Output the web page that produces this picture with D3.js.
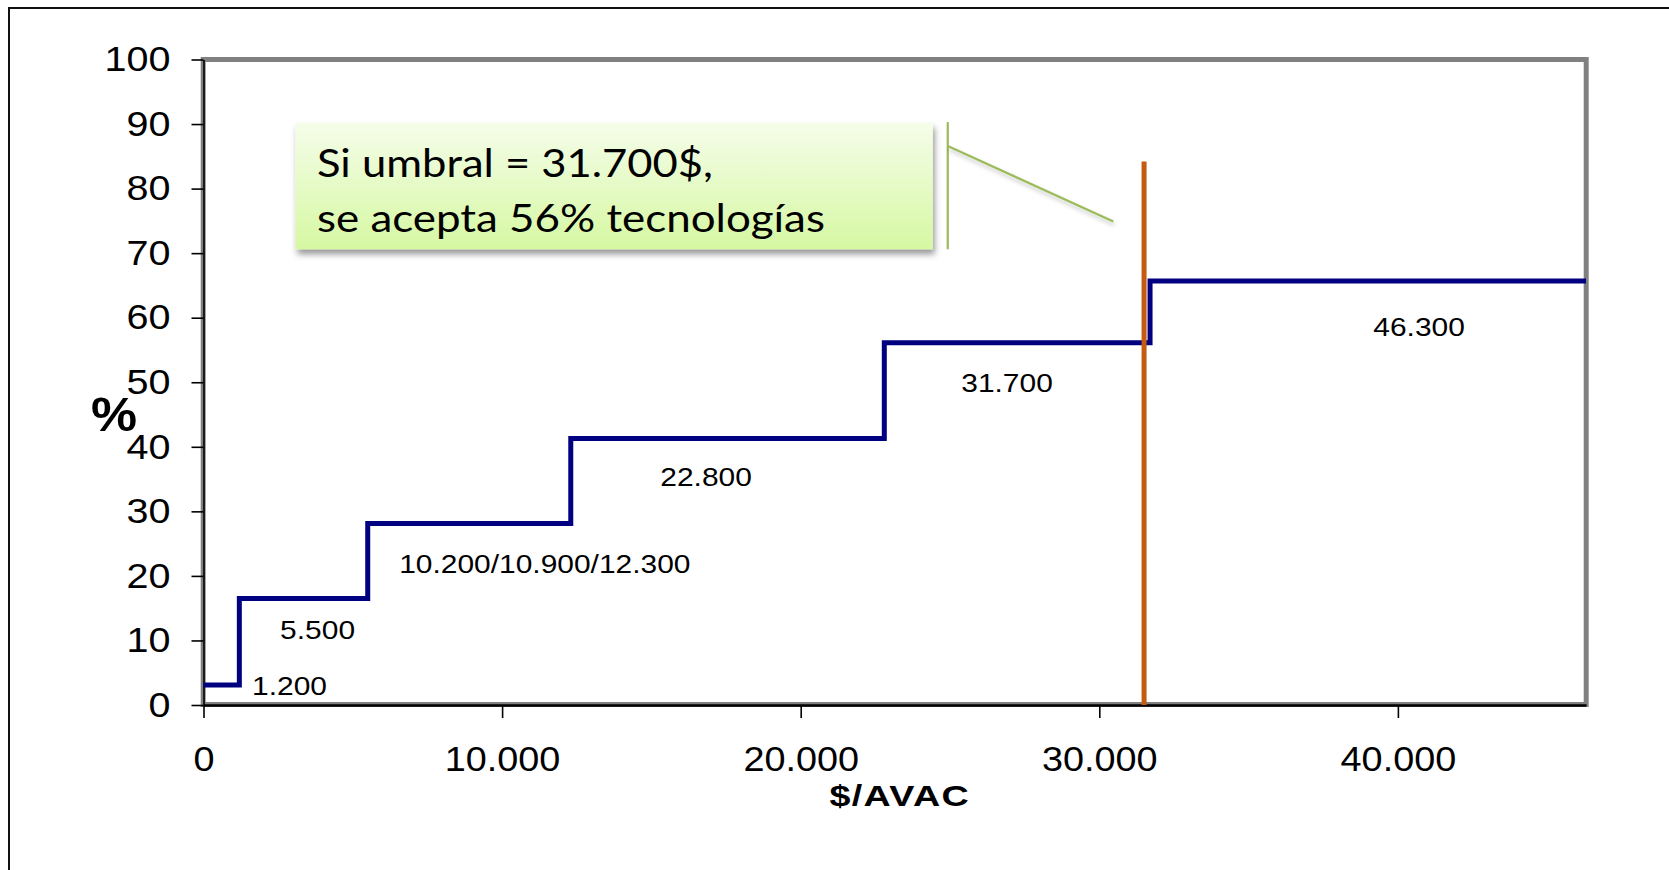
<!DOCTYPE html>
<html><head><meta charset="utf-8">
<script src="https://cdn.jsdelivr.net/npm/d3@7"></script>
<style>body{margin:0;background:#fff;} svg{display:block;}</style>
</head><body>
<script>
// ---- data ----
const thresholds = [0, 1200, 5500, 12300, 22800, 31700, 46300];
const levels = [3.1, 16.5, 28.1, 41.3, 56.1, 65.7];
const labelTexts = ["1.200", "5.500", "10.200/10.900/12.300", "22.800", "31.700", "46.300"];
const labelX = [2880, 3820, 11430, 16830, 26910, 40710];
const labelY = [3.1, 11.7, 21.9, 35.4, 50.0, 58.6];
const xTicks = [0, 10000, 20000, 30000, 40000];
const yTicks = [0, 10, 20, 30, 40, 50, 60, 70, 80, 90, 100];
const umbralX = 31500;
const umbralTop = 84.2;
const calloutLines = ["Si umbral = 31.700$,", "se acepta 56% tecnologías"];
const xTitle = "$/AVAC";
const yTitle = "%";

// ---- layout ----
const W = 1669, H = 870;
const FONT = "'Liberation Sans', Arial, sans-serif";
const SX = 1.13; // horizontal stretch of the original text

const x = d3.scaleLinear().domain([0, 46300]).range([203.5, 1586]);
const y = d3.scaleLinear().domain([0, 100]).range([705, 59.5]);

const svg = d3.select("body").append("svg").attr("width", W).attr("height", H);
svg.append("rect").attr("width", W).attr("height", H).attr("fill", "#fff");

const defs = svg.append("defs");
const grad = defs.append("linearGradient").attr("id", "boxGrad").attr("x1", 0).attr("y1", 0).attr("x2", 0).attr("y2", 1);
grad.append("stop").attr("offset", "0%").attr("stop-color", "#F5FDEA");
grad.append("stop").attr("offset", "100%").attr("stop-color", "#D6F8A2");
const f = defs.append("filter").attr("id", "shadow").attr("x", "-10%").attr("y", "-10%").attr("width", "130%").attr("height", "140%");
f.append("feDropShadow").attr("dx", 2).attr("dy", 5).attr("stdDeviation", 3).attr("flood-color", "#000").attr("flood-opacity", 0.4);
const f2 = defs.append("filter").attr("id", "shadow2").attr("x", "-10%").attr("y", "-10%").attr("width", "130%").attr("height", "140%");
f2.append("feDropShadow").attr("dx", 1).attr("dy", 3).attr("stdDeviation", 2).attr("flood-color", "#000").attr("flood-opacity", 0.25);

// outer border (cropped: only left and top visible)
svg.append("path").attr("d", `M9,${H} L9,8 L${W},8`).attr("fill", "none").attr("stroke", "#111").attr("stroke-width", 2);

// plot frame
svg.append("rect")
  .attr("x", x(0) - 0.3).attr("y", y(100))
  .attr("width", x(46300) - x(0) + 0.5).attr("height", y(0) - y(100) - 0.5)
  .attr("fill", "none").attr("stroke", "#808080").attr("stroke-width", 5);

function stretch(sel, s) {
  sel.each(function () {
    const t = d3.select(this);
    const xv = +t.attr("x") || 0;
    t.attr("x", xv / s).attr("transform", `scale(${s},1)`);
  });
}

const fmt = d3.formatLocale({decimal: ",", thousands: ".", grouping: [3], currency: ["$", ""]}).format(",d");

// y axis
const gy = svg.append("g").attr("transform", `translate(${x(0)},0)`)
  .call(d3.axisLeft(y).tickValues(yTicks).tickSize(12).tickPadding(21).tickSizeOuter(0).tickFormat(d3.format("d")));
gy.select(".domain").attr("stroke", "#000").attr("stroke-width", 1.6);
gy.selectAll(".tick line").attr("stroke", "#000").attr("stroke-width", 1.6);
gy.selectAll(".tick text").attr("font-family", FONT).attr("font-size", 35).attr("fill", "#000").call(stretch, SX);

// x axis
const gx = svg.append("g").attr("transform", `translate(0,${y(0)})`)
  .call(d3.axisBottom(x).tickValues(xTicks).tickSize(13).tickPadding(28).tickSizeOuter(0).tickFormat(fmt));
gx.select(".domain").attr("stroke", "#000").attr("stroke-width", 2.4);
gx.selectAll(".tick line").attr("stroke", "#000").attr("stroke-width", 1.6);
gx.selectAll(".tick text").attr("font-family", FONT).attr("font-size", 35).attr("fill", "#000").call(stretch, 1.08);

// step line
const pts = thresholds.map((t, i) => ({x: t, y: levels[Math.min(i, levels.length - 1)]}));
const line = d3.line().x(d => x(d.x)).y(d => y(d.y)).curve(d3.curveStepAfter);
svg.append("path").datum(pts).attr("d", line)
  .attr("fill", "none").attr("stroke", "#000080").attr("stroke-width", 5).attr("stroke-linejoin", "miter");

// threshold line
svg.append("line")
  .attr("x1", x(umbralX)).attr("x2", x(umbralX)).attr("y1", y(0)).attr("y2", y(umbralTop))
  .attr("stroke", "#C55A11").attr("stroke-width", 5);

// data labels
labelTexts.forEach((t, i) => {
  svg.append("g").attr("transform", `translate(${x(labelX[i])},${y(labelY[i])})`)
    .append("text").attr("transform", `scale(${SX},1)`)
    .attr("text-anchor", "middle").attr("dy", "0.36em")
    .attr("font-family", FONT).attr("font-size", 26.5).attr("fill", "#000").text(t);
});

// axis titles
svg.append("g").attr("transform", `translate(${(x(0) + x(46300)) / 2 + 5},805.5)`)
  .append("text").attr("transform", `scale(1.3,1)`).attr("text-anchor", "middle")
  .attr("font-family", FONT).attr("font-weight", "bold").attr("font-size", 29).attr("letter-spacing", 1)
  .attr("fill", "#000").text(xTitle);
svg.append("g").attr("transform", `translate(114,431)`)
  .append("text").attr("transform", `scale(1.08,1)`).attr("text-anchor", "middle")
  .attr("font-family", FONT).attr("font-weight", "bold").attr("font-size", 48)
  .attr("fill", "#000").text(yTitle);

// callout (in data units)
const box = {x0: 3080, x1: 24425, yTop: 90.2, yBot: 70.6};
const conn = {x: 24925, yTop: 90.3, yBot: 70.6, yStart: 86.6, xEnd: 30470, yEnd: 74.9};
const gc = svg.append("g");
gc.append("rect")
  .attr("x", x(box.x0)).attr("y", y(box.yTop))
  .attr("width", x(box.x1) - x(box.x0)).attr("height", y(box.yBot) - y(box.yTop))
  .attr("fill", "url(#boxGrad)").attr("filter", "url(#shadow)");
gc.append("line").attr("x1", x(conn.x)).attr("x2", x(conn.x)).attr("y1", y(conn.yTop)).attr("y2", y(conn.yBot))
  .attr("stroke", "#9BBB59").attr("stroke-width", 2.2);
gc.append("line").attr("x1", x(conn.x)).attr("y1", y(conn.yStart)).attr("x2", x(conn.xEnd)).attr("y2", y(conn.yEnd))
  .attr("stroke", "#9BBB59").attr("stroke-width", 2.2).attr("filter", "url(#shadow2)");
const textLens = [396, 508];
calloutLines.forEach((t, i) => {
  gc.append("text")
    .attr("x", x(box.x0) + 21.5).attr("y", 177.3 + i * 54.3)
    .attr("font-family", "Lato, 'Open Sans', sans-serif").attr("font-size", 38)
    .attr("textLength", textLens[i]).attr("lengthAdjust", "spacingAndGlyphs")
    .attr("fill", "#000").text(t);
});
</script>
</body></html>
